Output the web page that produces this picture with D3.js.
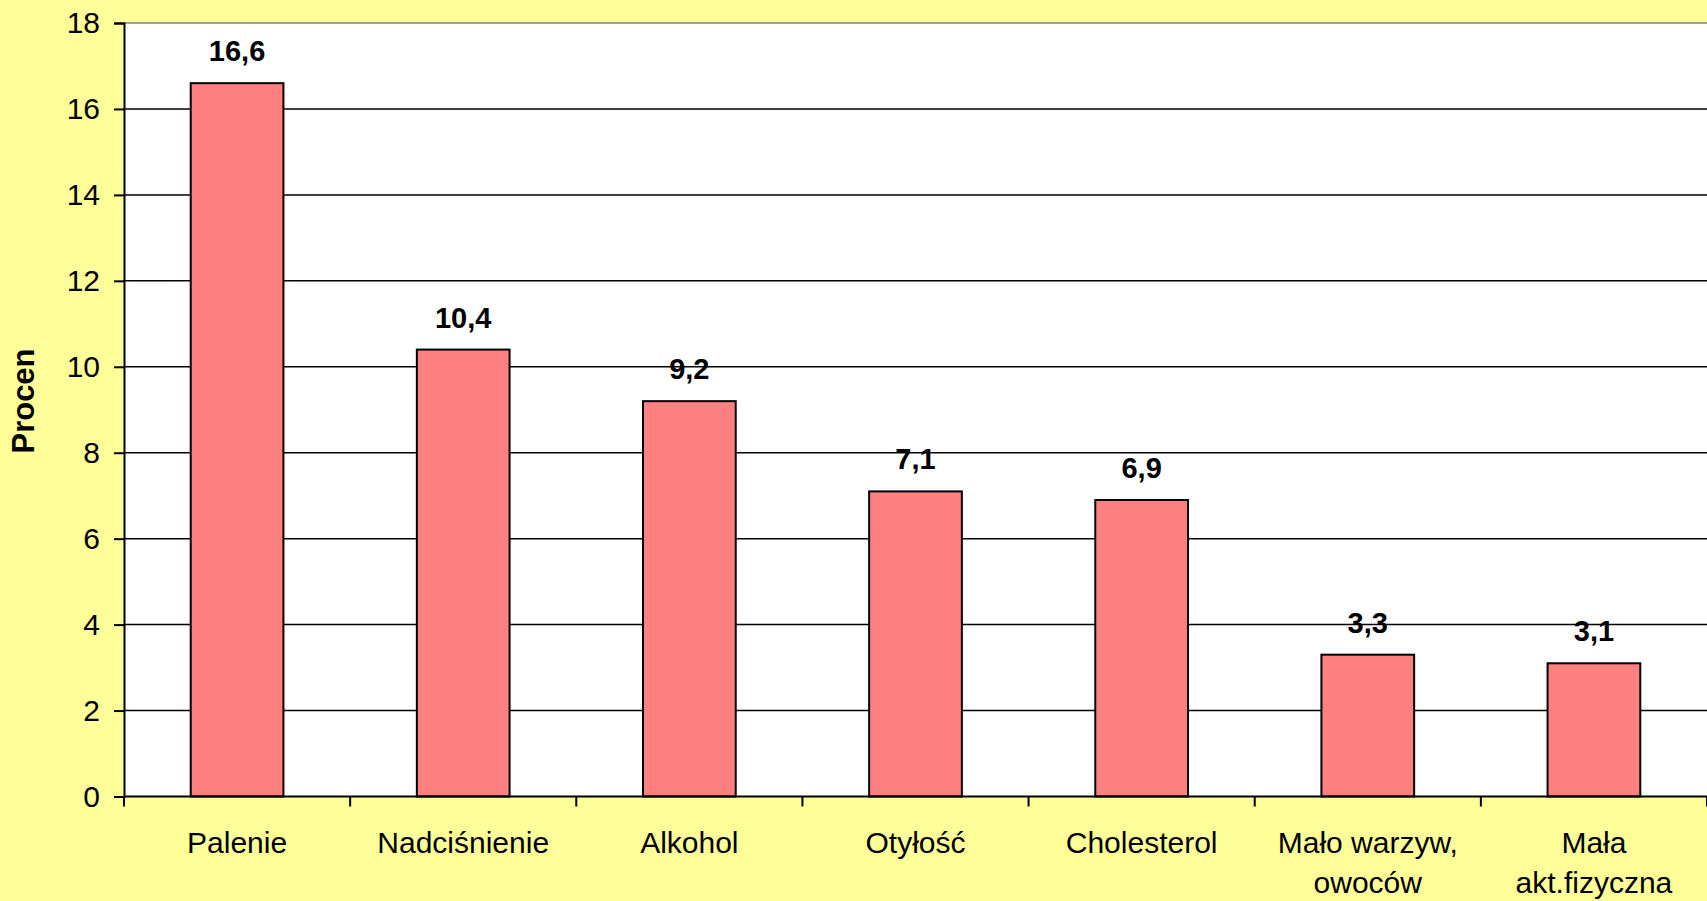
<!DOCTYPE html>
<html>
<head>
<meta charset="utf-8">
<script src="https://cdn.jsdelivr.net/npm/d3@7"></script>
<style>
  html, body { margin: 0; padding: 0; background: #ffff99; overflow: hidden; }
  svg { display: block; font-family: Arial, "Liberation Sans", sans-serif; }
</style>
</head>
<body>
<div id="chart"></div>
<script>
// chart data
const categories = ["Palenie", "Nadciśnienie", "Alkohol", "Otyłość", "Cholesterol", "Mało warzyw,\nowoców", "Mała\nakt.fizyczna"];
const values = [16.6, 10.4, 9.2, 7.1, 6.9, 3.3, 3.1];
const yTicks = [0, 2, 4, 6, 8, 10, 12, 14, 16, 18];
const yTitle = "Procen";

const width = 1707, height = 901;
const margin = { top: 23, right: 0, bottom: 104.5, left: 124 };

const svg = d3.select("#chart").append("svg")
  .attr("width", width)
  .attr("height", height);

svg.append("rect")
  .attr("width", width).attr("height", height)
  .attr("fill", "#ffff99");

const x = d3.scaleBand()
  .domain(categories)
  .range([margin.left, width - margin.right])
  .paddingInner(0.59)
  .paddingOuter(0.295);

const y = d3.scaleLinear()
  .domain([0, 18])
  .range([height - margin.bottom, margin.top]);

// plot area
svg.append("rect")
  .attr("x", margin.left).attr("y", margin.top)
  .attr("width", width - margin.left - margin.right)
  .attr("height", y(0) - margin.top)
  .attr("fill", "#ffffff");

// gridlines
svg.append("g")
  .selectAll("line")
  .data(yTicks.filter(d => d > 0))
  .join("line")
  .attr("x1", margin.left).attr("x2", width)
  .attr("y1", d => y(d)).attr("y2", d => y(d))
  .attr("stroke", d => d === 18 ? "#808080" : "#000")
  .attr("stroke-width", 1.5);

// bars
svg.append("g")
  .selectAll("rect")
  .data(values)
  .join("rect")
  .attr("x", (d, i) => x(categories[i]))
  .attr("y", d => y(d))
  .attr("width", x.bandwidth())
  .attr("height", d => y(0) - y(d))
  .attr("fill", "#ff8080")
  .attr("stroke", "#000")
  .attr("stroke-width", 2);

// value labels
svg.append("g")
  .selectAll("text")
  .data(values)
  .join("text")
  .attr("x", (d, i) => x(categories[i]) + x.bandwidth() / 2)
  .attr("y", d => y(d) - 22)
  .attr("text-anchor", "middle")
  .attr("font-size", 29)
  .attr("font-weight", "bold")
  .text(d => String(d).replace(".", ","));

// y axis
const yAxis = svg.append("g")
  .attr("transform", `translate(${margin.left},0)`)
  .call(d3.axisLeft(y).tickValues(yTicks).tickSize(10).tickPadding(14).tickFormat(d => d));
yAxis.select(".domain").attr("stroke", "#000").attr("stroke-width", 2);
yAxis.selectAll(".tick line").attr("stroke", "#000").attr("stroke-width", 2);
yAxis.selectAll(".tick text")
  .attr("font-size", 30)
  .attr("font-family", "Arial, 'Liberation Sans', sans-serif")
  .attr("fill", "#000");

// x axis
const xStep = x.step();
const xAxisG = svg.append("g");
xAxisG.append("line")
  .attr("x1", margin.left).attr("x2", width)
  .attr("y1", y(0)).attr("y2", y(0))
  .attr("stroke", "#000").attr("stroke-width", 2);
xAxisG.selectAll(".xtick")
  .data(d3.range(categories.length + 1))
  .join("line")
  .attr("class", "xtick")
  .attr("x1", i => margin.left + i * xStep).attr("x2", i => margin.left + i * xStep)
  .attr("y1", y(0)).attr("y2", y(0) + 10)
  .attr("stroke", "#000").attr("stroke-width", 2);

const catLabels = xAxisG.selectAll(".xlabel")
  .data(categories)
  .join("text")
  .attr("class", "xlabel")
  .attr("text-anchor", "middle")
  .attr("font-size", 30)
  .attr("x", d => x(d) + x.bandwidth() / 2)
  .attr("y", 853);
catLabels.each(function (d) {
  const lines = d.split("\n");
  const t = d3.select(this);
  lines.forEach((l, i) => {
    t.append("tspan")
      .attr("x", x(d) + x.bandwidth() / 2)
      .attr("dy", i === 0 ? 0 : 39.5)
      .text(l);
  });
});

// y title
svg.append("text")
  .attr("transform", `translate(34,401) rotate(-90)`)
  .attr("text-anchor", "middle")
  .attr("font-size", 31)
  .attr("font-weight", "bold")
  .text(yTitle);
</script>
</body>
</html>
